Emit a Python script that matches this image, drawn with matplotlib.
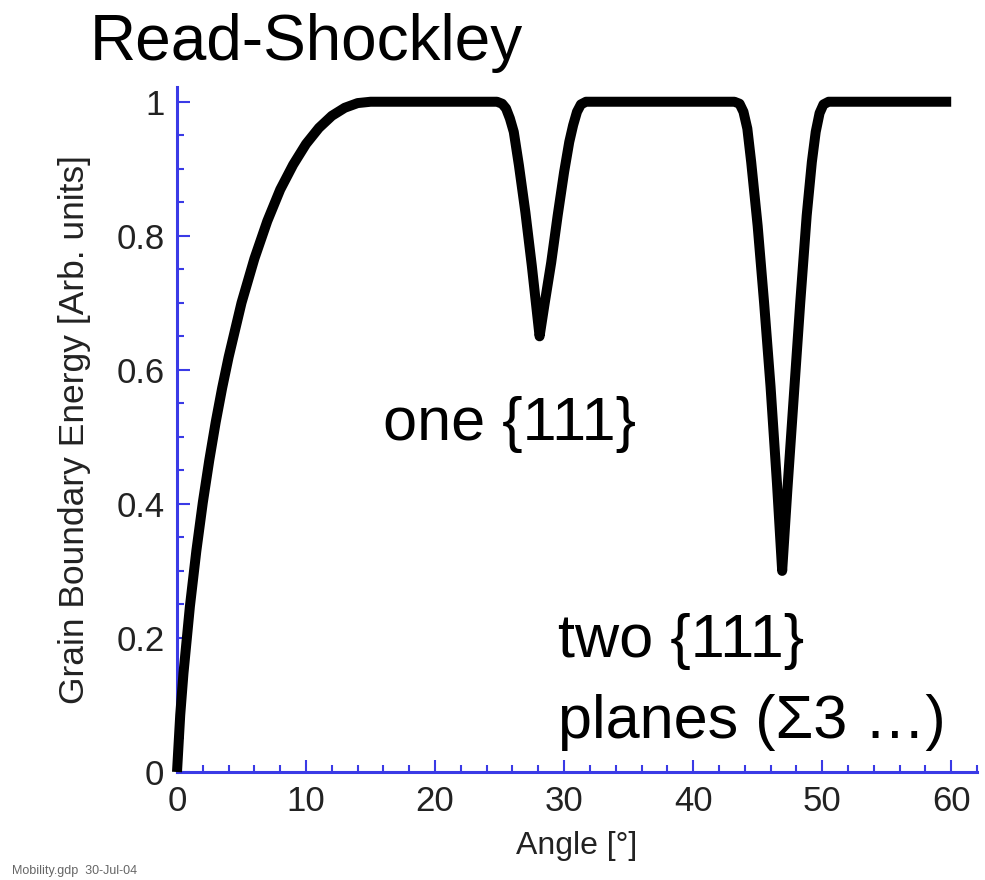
import matplotlib
matplotlib.use("Agg")
import matplotlib.pyplot as plt
from matplotlib.ticker import MultipleLocator

plt.rcParams['font.family'] = ['Liberation Sans', 'DejaVu Sans']

# ---- data ----
angle_deg = [0, 0.25, 0.5, 1, 1.5, 2, 2.5, 3, 3.5, 4, 5, 6, 7, 8, 9, 10, 11, 12, 13, 14, 15,
             24.8, 25.2, 25.5, 25.8, 26.1, 26.5, 27.0, 27.5, 28.1,
             28.5, 29.0, 29.5, 30.0, 30.4, 30.7, 31.0, 31.3, 31.7,
             43.2, 43.6, 43.9, 44.2, 44.5, 45.0, 45.5, 46.0, 46.5, 46.9,
             47.3, 47.8, 48.3, 48.8, 49.2, 49.5, 49.8, 50.1, 50.5,
             60]
energy = [0, 0.085, 0.147, 0.247, 0.330, 0.402, 0.465, 0.522, 0.573, 0.619, 0.700, 0.766, 0.822,
          0.869, 0.906, 0.937, 0.961, 0.979, 0.991, 0.998, 1.0,
          1.0, 0.997, 0.99, 0.975, 0.955, 0.905, 0.835, 0.755, 0.65,
          0.70, 0.76, 0.83, 0.895, 0.94, 0.965, 0.985, 0.996, 1.0,
          1.0, 0.997, 0.985, 0.96, 0.91, 0.815, 0.70, 0.575, 0.43, 0.30,
          0.42, 0.56, 0.70, 0.83, 0.91, 0.955, 0.983, 0.996, 1.0,
          1.0]

x_ticks = [0, 10, 20, 30, 40, 50, 60]
y_ticks = [0, 0.2, 0.4, 0.6, 0.8, 1]
y_tick_labels = ["0", "0.2", "0.4", "0.6", "0.8", "1"]

title_text = "Read-Shockley"
x_label = "Angle [°]"
y_label = "Grain Boundary Energy [Arb. units]"
note_one = "one {111}"
note_two_a = "two {111}"
note_two_b = "planes (Σ3 …)"
footer = "Mobility.gdp  30-Jul-04"

# ---- figure ----
W, H = 985, 880
fig = plt.figure(figsize=(W / 100, H / 100), dpi=100)
ax = fig.add_axes([177 / W, 108 / H, 800 / W, 685 / H])

axis_blue = "#3a3ae6"
ax.plot(angle_deg, energy, color="black", lw=7.2, solid_joinstyle="round",
        solid_capstyle="butt", clip_on=False, zorder=5)

ax.set_xlim(0, 62)
ax.set_ylim(0, 1.022)

for s in ["top", "right"]:
    ax.spines[s].set_visible(False)
for s in ["left", "bottom"]:
    ax.spines[s].set_color(axis_blue)
    ax.spines[s].set_linewidth(2.2)

ax.set_xticks(x_ticks)
ax.set_yticks(y_ticks)
ax.set_yticklabels(y_tick_labels)
ax.xaxis.set_minor_locator(MultipleLocator(2))
ax.yaxis.set_minor_locator(MultipleLocator(0.05))
ax.tick_params(which="both", direction="in", color=axis_blue, width=1.5,
               labelsize=25, labelcolor="#222222")
ax.tick_params(which="major", length=9, pad=9)
ax.tick_params(which="minor", length=5)

ax.set_xlabel(x_label, fontsize=23, color="#222222", labelpad=10)
ax.set_ylabel(y_label, fontsize=25.5, color="#222222", labelpad=18)

fig.text(90 / W, 1 - 60 / H, title_text, fontsize=46, ha="left", va="baseline")
ax.text(16.0, 0.495, note_one, fontsize=44, ha="left", va="baseline")
ax.text(29.5, 0.172, note_two_a, fontsize=44, ha="left", va="baseline", clip_on=False)
ax.text(29.5, 0.050, note_two_b, fontsize=44, ha="left", va="baseline", clip_on=False)
fig.text(12 / W, 3 / H, footer, fontsize=9, color="#666666", ha="left", va="bottom")

fig.savefig("out.png", dpi=100)
